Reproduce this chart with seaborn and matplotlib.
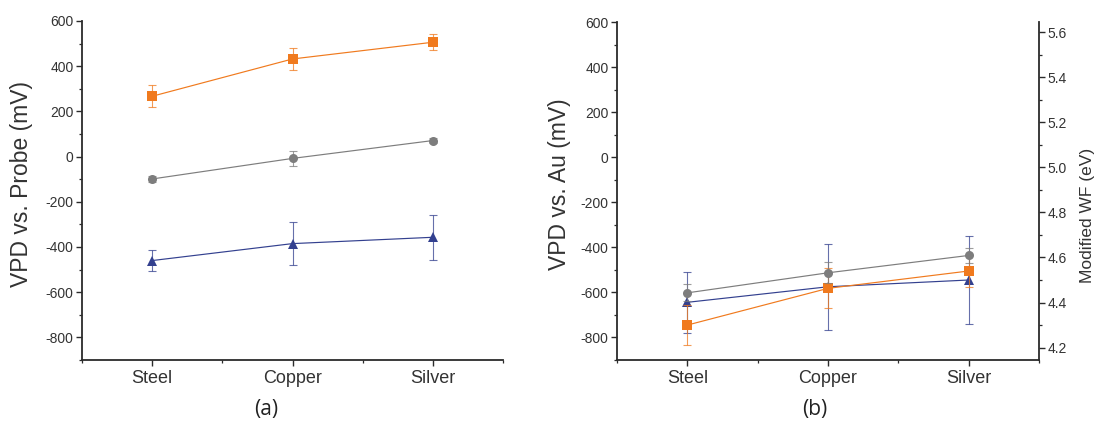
import numpy as np
import pandas as pd
import matplotlib
matplotlib.use("Agg")
import matplotlib.pyplot as plt
import seaborn as sns
from matplotlib.ticker import FixedLocator, MultipleLocator, FormatStrFormatter

# ---------------- data ----------------
categories = ["Steel", "Copper", "Silver"]

# panel (a): VPD vs. Probe (mV)
a_orange = [267, 432, 506]
a_orange_err = [48, 48, 36]
a_gray = [-99, -8, 71]
a_gray_err = [14, 33, 10]
a_blue = [-460, -385, -357]
a_blue_err = [45, 95, 100]

# panel (b): VPD vs. Au (mV)
b_gray = [-602, -513, -436]
b_gray_err = [38, 46, 34]
b_orange = [-745, -582, -505]
b_orange_err = [90, 89, 70]
b_blue = [-644, -575, -545]
b_blue_err = [136, 190, 195]

mv_ticks = [-800, -600, -400, -200, 0, 200, 400, 600]
wf_ticks = [4.2, 4.4, 4.6, 4.8, 5.0, 5.2, 5.4, 5.6]

# ---------------- style ----------------
sns.set_theme(style="ticks")
plt.rcParams["font.family"] = ["Liberation Sans", "DejaVu Sans"]
plt.rcParams["axes.unicode_minus"] = False

ORANGE = "#F07A1E"
GRAY = "#7D7D7D"
BLUE = "#33408F"
SPINE = "#2b2b2b"
TXT = "#333333"

fig = plt.figure(figsize=(10.98, 4.38), dpi=100)
W, H = 1098, 438
ax_a = fig.add_axes([82 / W, 1 - 360 / H, 421 / W, 339 / H])
ax_b = fig.add_axes([617 / W, 1 - 360 / H, 422 / W, 338 / H])

xpos = np.arange(len(categories))


def draw_series(ax, vals, errs, color, marker, ms, z):
    df = pd.DataFrame({"x": xpos, "y": vals})
    ax.errorbar(df["x"], df["y"], yerr=errs, fmt="none", ecolor=color,
                elinewidth=0.8, capsize=2.6, capthick=0.8, alpha=0.75, zorder=z)
    sns.lineplot(data=df, x="x", y="y", ax=ax, color=color, linewidth=0.85,
                 marker=marker, markersize=ms, markeredgewidth=0,
                 markerfacecolor=color, zorder=z + 1, alpha=1.0)


def style_axis(ax, ylabel, label_x):
    ax.set_xlim(-0.5, 2.5)
    ax.set_ylim(-900, 600)
    ax.set_xticks(xpos)
    ax.set_xticklabels(categories, fontsize=13, color=TXT)
    ax.xaxis.set_minor_locator(FixedLocator([-0.5, 0.5, 1.5, 2.5]))
    ax.yaxis.set_major_locator(FixedLocator(mv_ticks))
    ax.yaxis.set_minor_locator(MultipleLocator(100))
    ax.tick_params(axis="y", which="major", labelsize=10, labelcolor=TXT,
                   length=4, width=1.0, color=SPINE, direction="out", pad=2)
    ax.tick_params(axis="y", which="minor", length=2.2, width=0.9, color=SPINE,
                   direction="out")
    ax.tick_params(axis="x", which="major", length=4, width=1.0, color=SPINE,
                   direction="out", pad=3)
    ax.tick_params(axis="x", which="minor", length=2.2, width=0.9, color=SPINE,
                   direction="out")
    for s in ["top", "right"]:
        ax.spines[s].set_visible(False)
    for s in ["left", "bottom"]:
        ax.spines[s].set_color(SPINE)
        ax.spines[s].set_linewidth(1.3)
    ax.set_xlabel("")
    ax.set_ylabel(ylabel, fontsize=16.5, color=TXT)
    ax.yaxis.set_label_coords(label_x, 0.52)
    ax.set_facecolor("white")


# panel (a)
draw_series(ax_a, a_orange, a_orange_err, ORANGE, "s", 6.5, 3)
draw_series(ax_a, a_gray, a_gray_err, GRAY, "o", 6.5, 3)
draw_series(ax_a, a_blue, a_blue_err, BLUE, "^", 7, 3)
style_axis(ax_a, "VPD vs. Probe (mV)", (33 - 82) / 421)

# panel (b)
draw_series(ax_b, b_blue, b_blue_err, BLUE, "^", 7, 3)
draw_series(ax_b, b_orange, b_orange_err, ORANGE, "s", 6.5, 5)
draw_series(ax_b, b_gray, b_gray_err, GRAY, "o", 6.5, 7)
style_axis(ax_b, "VPD vs. Au (mV)", (571 - 617) / 422)

# right axis (Modified WF)
ax_r = ax_b.twinx()
ax_r.set_ylim(4.145, 5.645)
ax_r.yaxis.set_major_locator(FixedLocator(wf_ticks))
ax_r.yaxis.set_minor_locator(MultipleLocator(0.1))
ax_r.yaxis.set_major_formatter(FormatStrFormatter("%.1f"))
ax_r.tick_params(axis="y", which="major", labelsize=10, labelcolor=TXT,
                 length=4, width=1.0, color=SPINE, direction="out", pad=2)
ax_r.tick_params(axis="y", which="minor", length=2.2, width=0.9, color=SPINE,
                 direction="out")
for s in ["top", "left", "bottom"]:
    ax_r.spines[s].set_visible(False)
ax_r.spines["right"].set_color(SPINE)
ax_r.spines["right"].set_linewidth(1.3)
ax_r.set_ylabel("Modified WF (eV)", fontsize=12.5, color=TXT)
ax_r.yaxis.set_label_coords((1080 - 617) / 422, (360 - 215) / 338)

# panel captions
fig.text(266 / W, 1 - 410 / H, "(a)", ha="center", va="center", fontsize=15,
         color="#222222", family=["Open Sans", "DejaVu Sans"])
fig.text(815 / W, 1 - 410 / H, "(b)", ha="center", va="center", fontsize=15,
         color="#222222", family=["Open Sans", "DejaVu Sans"])

fig.savefig("out.png", dpi=100, facecolor="white")
